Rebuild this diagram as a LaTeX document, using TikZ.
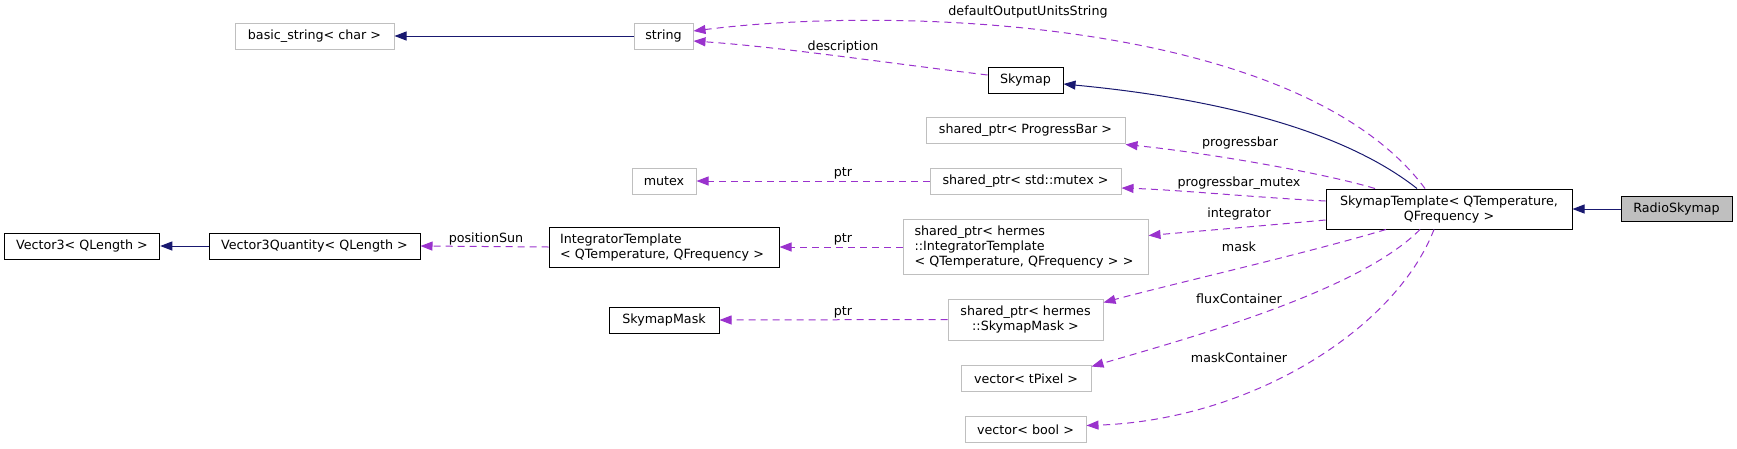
\documentclass[tikz,border=0pt]{standalone}
\usepackage{fontspec}
\setmainfont{DejaVu Sans}
\usetikzlibrary{arrows.meta}
\definecolor{navyc}{HTML}{191970}
\definecolor{purp}{HTML}{9A32CD}
\definecolor{grayb}{HTML}{BFBFBF}
\tikzset{
  x=1pt,y=-1pt,
  every node/.style={font=\fontsize{12.7}{15}\selectfont, inner sep=0pt},
  cls/.style={draw=black, line width=1pt, fill=white},
  ext/.style={draw=grayb, line width=1pt, fill=white},
  inh/.style={draw=navyc, line width=1pt, -{Triangle[length=12pt,width=9pt]}},
  dep/.style={draw=purp, line width=1pt, dash pattern=on 7pt off 5pt, -{Triangle[length=12pt,width=9pt]}},
  lbl/.style={text=black}
}
\begin{document}
\begin{tikzpicture}
\useasboundingbox (0,0) rectangle (1737,448);
% nodes
\node[ext, minimum width=159pt, minimum height=26pt] (basic) at (314.5,36) {basic\_string< char >};
\node[ext, minimum width=59pt, minimum height=26pt] (string) at (663.5,36) {string};
\node[cls, minimum width=75pt, minimum height=26pt] (skymap) at (1025.5,80) {Skymap};
\node[ext, minimum width=199pt, minimum height=26pt] (pbar) at (1025.5,130) {shared\_ptr< ProgressBar >};
\node[ext, minimum width=64pt, minimum height=26pt] (mutex) at (664,181) {mutex};
\node[ext, minimum width=191pt, minimum height=26pt] (smutex) at (1025.5,181) {shared\_ptr< std::mutex >};
\node[cls, minimum width=230pt, minimum height=40pt, text width=208pt, align=left] (integ) at (664,247) {IntegratorTemplate\\< QTemperature, QFrequency >};
\node[ext, minimum width=245pt, minimum height=55pt, text width=222pt, align=left] (sinteg) at (1025.5,246.5) {shared\_ptr< hermes\\::IntegratorTemplate\\< QTemperature, QFrequency > >};
\node[cls, minimum width=110pt, minimum height=26pt] (smask) at (664,320) {SkymapMask};
\node[ext, minimum width=155pt, minimum height=41pt, align=center] (ssmask) at (1025.5,319.5) {shared\_ptr< hermes\\::SkymapMask >};
\node[ext, minimum width=130pt, minimum height=26pt] (vtpix) at (1026,378.5) {vector< tPixel >};
\node[ext, minimum width=121pt, minimum height=26pt] (vbool) at (1025.5,429.5) {vector< bool >};
\node[cls, minimum width=155.5pt, minimum height=26pt] (v3) at (82,246) {Vector3< QLength >};
\node[cls, minimum width=211pt, minimum height=26pt] (v3q) at (314.5,246) {Vector3Quantity< QLength >};
\node[cls, minimum width=246pt, minimum height=40pt, align=center] (stemp) at (1449,209) {SkymapTemplate< QTemperature,\\QFrequency >};
\node[cls, fill=grayb, minimum width=111pt, minimum height=25pt] (radio) at (1676.5,209) {RadioSkymap};
% inheritance edges
\draw[inh] (string.west) -- (basic.east);
\draw[inh] (radio.west) -- (stemp.east);
\draw[inh] (v3q.west) -- (v3.east);
\draw[inh] ([xshift=-32pt]stemp.north) .. controls (1330,120) and (1180,95) .. ([yshift=-4pt]skymap.east);
% dependency edges
\draw[dep] ([xshift=-24pt]stemp.north) .. controls (1300,20) and (900,5) .. ([yshift=5pt]string.east);
\draw[dep] ([yshift=5pt]skymap.west) .. controls (880,62) and (780,47) .. ([yshift=-5pt]string.east);
\draw[dep] ([xshift=-74pt]stemp.north) .. controls (1320,172) and (1200,152) .. ([yshift=-1pt]pbar.south east);
\draw[dep] ([yshift=8pt]stemp.west) .. controls (1250,197) and (1180,190) .. ([yshift=-7pt]smutex.east);
\draw[dep] ([yshift=-11pt]stemp.west) .. controls (1260,226) and (1200,231) .. ([yshift=11pt]sinteg.east);
\draw[dep] ([xshift=-63pt]stemp.south) .. controls (1300,255) and (1180,282) .. ([yshift=17pt]ssmask.east);
\draw[dep] ([xshift=-29pt]stemp.south) .. controls (1360,290) and (1200,335) .. ([yshift=12pt]vtpix.east);
\draw[dep] ([xshift=-15pt]stemp.south) .. controls (1395,330) and (1250,420) .. ([yshift=4pt]vbool.east);
\draw[dep] (smutex.west) -- (mutex.east);
\draw[dep] (sinteg.west |- integ.east) -- (integ.east);
\draw[dep] (ssmask.west) -- (smask.east);
\draw[dep] (integ.west) -- (v3q.east);
% labels
\node[lbl] (l1) at (1028,12) {defaultOutputUnitsString};
\node[lbl] (l2) at (843,47) {description};
\node[lbl] (l3) at (1240,143) {progressbar};
\node[lbl] (l4) at (1239,183) {progressbar\_mutex};
\node[lbl] (l5) at (1239,214) {integrator};
\node[lbl] (l6) at (1239,247) {mask};
\node[lbl] (l7) at (1239,299) {fluxContainer};
\node[lbl] (l8) at (1239,358) {maskContainer};
\node[lbl] (l9) at (843,173) {ptr};
\node[lbl] (l10) at (843,239) {ptr};
\node[lbl] (l11) at (843,312) {ptr};
\node[lbl] (l12) at (486,239) {positionSun};
\end{tikzpicture}
\end{document}
